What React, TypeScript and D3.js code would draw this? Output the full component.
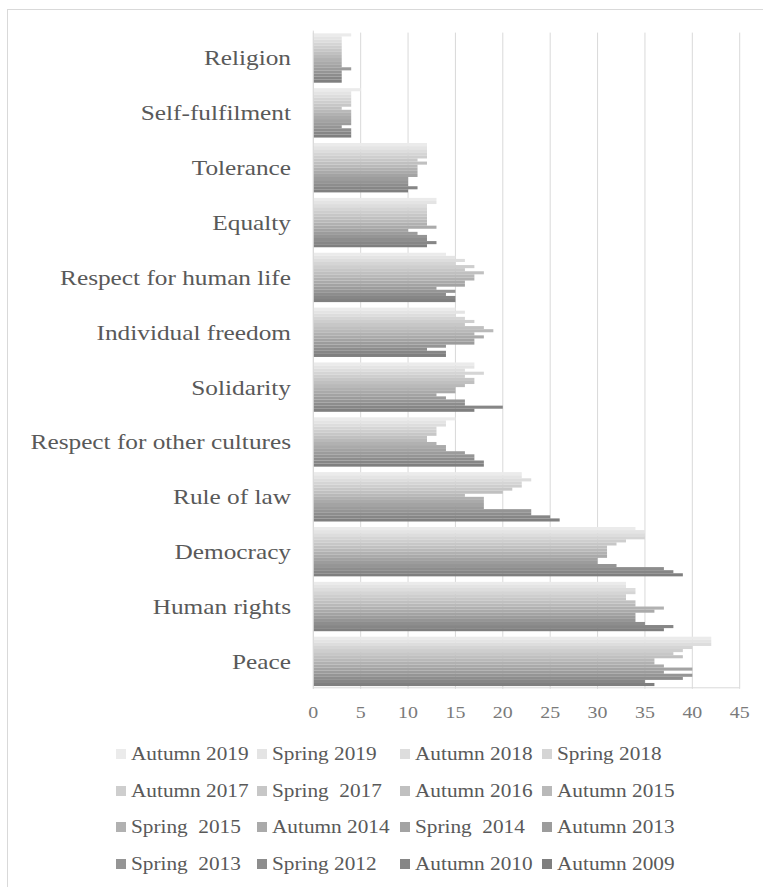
import React from "react";
import * as d3 from "d3";

const categories = [
  "Religion",
  "Self-fulfilment",
  "Tolerance",
  "Equalty",
  "Respect for human life",
  "Individual freedom",
  "Solidarity",
  "Respect for other cultures",
  "Rule of law",
  "Democracy",
  "Human rights",
  "Peace",
];

const series = [
  "Autumn 2019",
  "Spring 2019",
  "Autumn 2018",
  "Spring 2018",
  "Autumn 2017",
  "Spring  2017",
  "Autumn 2016",
  "Autumn 2015",
  "Spring  2015",
  "Autumn 2014",
  "Spring  2014",
  "Autumn 2013",
  "Spring  2013",
  "Spring 2012",
  "Autumn 2010",
  "Autumn 2009",
];

// values per category, in series order (Autumn 2019 ... Autumn 2009)
const religion = [4, 3, 3, 3, 3, 3, 3, 3, 3, 3, 3, 4, 3, 3, 3, 3];
const selfFulfilment = [5, 4, 4, 4, 4, 4, 3, 4, 4, 4, 4, 4, 3, 4, 4, 4];
const tolerance = [12, 12, 12, 12, 12, 11, 12, 11, 11, 11, 11, 10, 10, 10, 11, 10];
const equalty = [13, 13, 12, 12, 12, 12, 12, 12, 12, 13, 10, 11, 12, 12, 13, 12];
const respectHumanLife = [14, 15, 16, 15, 17, 16, 18, 17, 17, 16, 16, 13, 15, 14, 15, 15];
const individualFreedom = [15, 16, 15, 16, 17, 16, 18, 19, 17, 18, 17, 17, 14, 12, 14, 14];
const solidarity = [17, 17, 16, 18, 16, 17, 17, 16, 15, 15, 13, 14, 16, 16, 20, 17];
const respectOtherCultures = [15, 14, 14, 13, 13, 13, 12, 12, 13, 14, 14, 16, 17, 17, 18, 18];
const ruleOfLaw = [22, 22, 23, 22, 22, 21, 20, 16, 18, 18, 18, 18, 23, 23, 25, 26];
const democracy = [34, 35, 35, 35, 33, 32, 31, 31, 31, 31, 30, 30, 32, 37, 38, 39];
const humanRights = [33, 33, 34, 34, 33, 33, 34, 34, 37, 36, 34, 34, 34, 35, 38, 37];
const peace = [42, 42, 42, 40, 39, 38, 39, 36, 36, 37, 40, 37, 40, 39, 35, 36];

const xTicks = [0, 5, 10, 15, 20, 25, 30, 35, 40, 45];

const valueRows = [
  religion,
  selfFulfilment,
  tolerance,
  equalty,
  respectHumanLife,
  individualFreedom,
  solidarity,
  respectOtherCultures,
  ruleOfLaw,
  democracy,
  humanRights,
  peace,
];

const W = 763;
const H = 887;
const FONT = "'Liberation Serif', 'Times New Roman', serif";

export default function App() {
  const x = d3.scaleLinear().domain([0, 45]).range([313.3, 739.7]);
  const y = d3
    .scaleBand<string>()
    .domain(categories)
    .range([30.6, 688.8])
    .paddingInner(0.1)
    .paddingOuter(0.05);
  const yi = d3.scaleBand<string>().domain(series).range([0, y.bandwidth()]);
  const color = (i: number) =>
    d3.interpolateRgb("#ebebeb", "#7f7f7f")(i / (series.length - 1));

  const plotTop = 30.6;
  const plotBottom = 688.8;

  const legendCols = [116, 257, 400, 542];
  const legendRows = [754, 791, 827, 864];

  return (
    <svg
      width={W}
      height={H}
      style={{ position: "absolute", left: 0, top: 0, background: "#fff" }}
    >
      <rect x={7.5} y={9.5} width={780} height={900} fill="#fff" stroke="#d9d9d9" />
      {/* gridlines */}
      {xTicks.map((t) => (
        <line
          key={"g" + t}
          x1={x(t)}
          x2={x(t)}
          y1={plotTop + 2}
          y2={plotBottom}
          stroke="#d9d9d9"
          strokeWidth={1}
        />
      ))}
      {/* bars */}
      {categories.map((c, ci) => (
        <g key={c} transform={`translate(0,${y(c)})`}>
          {series.map((s, si) => (
            <rect
              key={s}
              x={x(0)}
              y={yi(s)}
              width={x(valueRows[ci][si]) - x(0)}
              height={yi.bandwidth()}
              fill={color(si)}
            />
          ))}
        </g>
      ))}
      {/* axes lines */}
      <line x1={x(0)} x2={x(0)} y1={plotTop} y2={plotBottom} stroke="#d9d9d9" />
      <line x1={x(0)} x2={x(45)} y1={plotBottom - 1} y2={plotBottom - 1} stroke="#d9d9d9" />
      {/* x tick labels */}
      {xTicks.map((t) => (
        <g key={"t" + t} transform={`translate(${x(t)},718) scale(1.17,1)`}>
          <text textAnchor="middle" fontFamily={FONT} fontSize={17} fill="#7a7a7a">
            {t}
          </text>
        </g>
      ))}
      {/* category labels */}
      {categories.map((c) => (
        <g
          key={"c" + c}
          transform={`translate(291,${(y(c) as number) + y.bandwidth() / 2}) scale(1.15,1)`}
        >
          <text
            textAnchor="end"
            dominantBaseline="central"
            fontFamily={FONT}
            fontSize={22}
            fill="#595959"
          >
            {c}
          </text>
        </g>
      ))}
      {/* legend */}
      {series.map((s, i) => {
        const col = i % 4;
        const row = Math.floor(i / 4);
        const lx = legendCols[col];
        const ly = legendRows[row];
        return (
          <g key={"l" + s}>
            <rect x={lx} y={ly - 5} width={10} height={10} fill={color(i)} />
            <g transform={`translate(${lx + 15},${ly}) scale(1.15,1)`}>
              <text
                dominantBaseline="central"
                fontFamily={FONT}
                fontSize={18.5}
                fill="#595959"
                style={{ whiteSpace: "pre" }}
              >
                {s}
              </text>
            </g>
          </g>
        );
      })}
    </svg>
  );
}
